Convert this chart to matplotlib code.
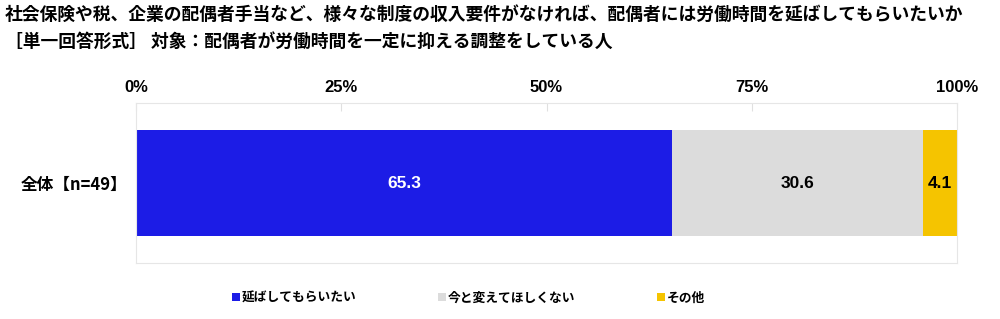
import matplotlib
matplotlib.use("Agg")
import matplotlib.pyplot as plt

plt.rcParams['font.family'] = ['Noto Sans CJK JP', 'DejaVu Sans']

title1 = "社会保険や税、企業の配偶者手当など、様々な制度の収入要件がなければ、配偶者には労働時間を延ばしてもらいたいか"
title2 = "［単一回答形式］ 対象：配偶者が労働時間を一定に抑える調整をしている人"
categories = ["全体【n=49】"]
series_names = ["延ばしてもらいたい", "今と変えてほしくない", "その他"]
series_values = [[65.3], [30.6], [4.1]]
colors = ["#1c1ce6", "#dcdcdc", "#f5c400"]
label_colors = ["white", "black", "black"]
xticks = [0, 25, 50, 75, 100]
xticklabels = ["0%", "25%", "50%", "75%", "100%"]

fig = plt.figure(figsize=(10, 3.19), dpi=100)
ax = fig.add_axes([136/1000, 1-263/319, 821/1000, 160/319])

left = [0]*len(categories)
handles = []
for name, vals, c, lc in zip(series_names, series_values, colors, label_colors):
    b = ax.barh(range(len(categories)), vals, left=left, height=0.66, color=c, label=name)
    handles.append(b)
    for i, v in enumerate(vals):
        ax.text(left[i] + v/2, i, f"{v:.1f}", ha='center', va='center', color=lc,
                fontsize=12.5, fontweight='bold', family=['Liberation Sans', 'DejaVu Sans'])
    left = [l + v for l, v in zip(left, vals)]

ax.set_xlim(0, 100)
ax.set_ylim(-0.5, 0.5)
ax.invert_yaxis()
ax.set_yticks(range(len(categories)))
ax.set_yticklabels(categories, fontsize=12, fontweight='bold')
ax.xaxis.tick_top()
ax.set_xticks(xticks)
ax.set_xticklabels(xticklabels, fontsize=12, fontweight='bold', family=['Liberation Sans', 'DejaVu Sans'])
ax.tick_params(axis='x', direction='in', length=6, color='#e0e0e0', pad=6)
ax.tick_params(axis='y', length=0, pad=6)
for s in ax.spines.values():
    s.set_color('#e6e6e6')
    s.set_linewidth(0.8)

fig.text(0.005, 1-15/319, title1, fontsize=12.8, fontweight='bold', va='center', ha='left')
fig.text(0.005, 1-42/319, title2, fontsize=12.8, fontweight='bold', va='center', ha='left')

leg = fig.legend(handles=handles, labels=series_names, loc='center left',
                 bbox_to_anchor=(232/1000, 1-298/319), ncol=3, frameon=False,
                 handlelength=0.6, handleheight=0.6, handletextpad=0.15,
                 columnspacing=6.4, borderaxespad=0, borderpad=0,
                 prop={'size': 9.2, 'weight': 'bold'})

fig.savefig("out.png", dpi=100, facecolor='white')
